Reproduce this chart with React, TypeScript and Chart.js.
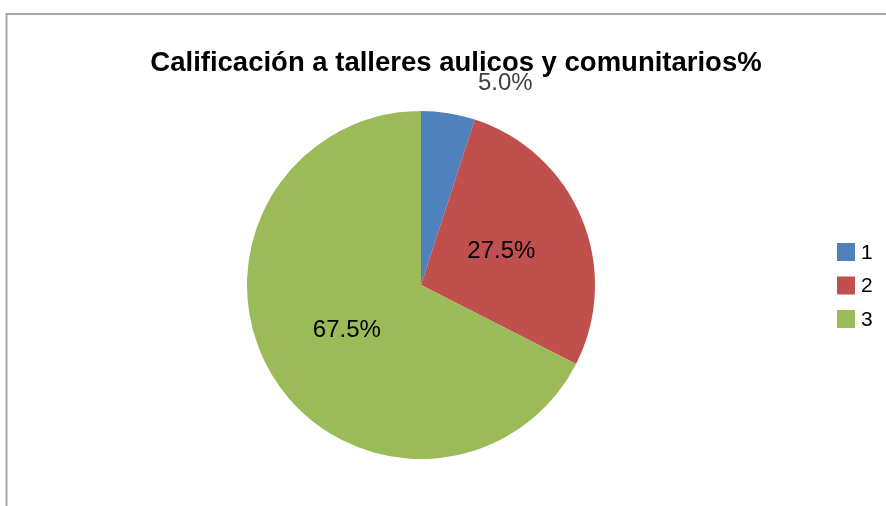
import React, { useEffect, useRef } from "react";
import { Chart, registerables } from "chart.js";

Chart.register(...registerables);

const titleText = "Calificación a talleres aulicos y comunitarios%";
const categories = ["1", "2", "3"];
const values = [5.0, 27.5, 67.5];
const colors = ["#4f81bd", "#c0504d", "#9bbb59"];

const FONT = '"Liberation Sans Narrow", "Liberation Sans", Arial, sans-serif';

const decorPlugin = {
  id: "decor",
  beforeDraw(chart: any) {
    const ctx = chart.ctx;
    ctx.save();
    ctx.strokeStyle = "#a6a6a6";
    ctx.lineWidth = 2;
    ctx.beginPath();
    ctx.moveTo(6.5, chart.height);
    ctx.lineTo(6.5, 14);
    ctx.lineTo(chart.width, 14);
    ctx.stroke();
    ctx.restore();
  },
  afterDraw(chart: any) {
    const ctx = chart.ctx;
    ctx.save();
    // title
    ctx.fillStyle = "#000";
    ctx.font = "bold 27.5px " + FONT;
    ctx.textAlign = "center";
    ctx.textBaseline = "alphabetic";
    ctx.fillText(titleText, 456, 71);

    // data labels
    const meta = chart.getDatasetMeta(0);
    const data = chart.data.datasets[0].data as number[];
    const total = data.reduce((a: number, b: number) => a + b, 0);
    ctx.font = "24px " + FONT;
    ctx.textBaseline = "middle";
    meta.data.forEach((arc: any, i: number) => {
      const p = arc.getProps(["x", "y", "startAngle", "endAngle", "outerRadius"], true);
      const mid = (p.startAngle + p.endAngle) / 2;
      const share = data[i] / total;
      const txt = (share * 100).toFixed(1) + "%";
      if (share < 0.1) {
        const r = p.outerRadius + 30;
        const x = p.x + Math.cos(mid) * r + 25;
        const y = p.y + Math.sin(mid) * r;
        ctx.textAlign = "left";
        ctx.fillStyle = "#404040";
        ctx.fillText(txt, x, y);
      } else {
        const r = p.outerRadius * 0.5;
        ctx.textAlign = "center";
        ctx.fillStyle = "#000";
        ctx.fillText(txt, p.x + Math.cos(mid) * r, p.y + Math.sin(mid) * r);
      }
    });

    // legend
    ctx.font = "21px " + FONT;
    ctx.textAlign = "left";
    ctx.textBaseline = "middle";
    const lx = 837;
    const ly0 = 252;
    const step = 33.5;
    const box = 18;
    chart.data.labels.forEach((lab: string, i: number) => {
      const cy = ly0 + i * step;
      ctx.fillStyle = colors[i];
      ctx.fillRect(lx, cy - box / 2, box, box);
      ctx.fillStyle = "#000";
      ctx.fillText(lab, lx + box + 6, cy + 1);
    });
    ctx.restore();
  },
};

export default function App() {
  const ref = useRef<HTMLCanvasElement | null>(null);
  useEffect(() => {
    if (!ref.current) return;
    const chart = new Chart(ref.current, {
      type: "pie",
      data: {
        labels: categories,
        datasets: [
          {
            data: values,
            backgroundColor: colors,
            borderWidth: 0,
          },
        ],
      },
      options: {
        responsive: false,
        animation: false,
        layout: { padding: { top: 111, bottom: 47, left: 0, right: 44 } },
        plugins: {
          legend: { display: false },
          title: { display: false },
          tooltip: { enabled: false },
        },
      },
      plugins: [decorPlugin],
    });
    return () => chart.destroy();
  }, []);
  return (
    <div style={{ position: "absolute", left: 0, top: 0, width: 886, height: 506, background: "#fff" }}>
      <canvas ref={ref} width={886} height={506} />
    </div>
  );
}
